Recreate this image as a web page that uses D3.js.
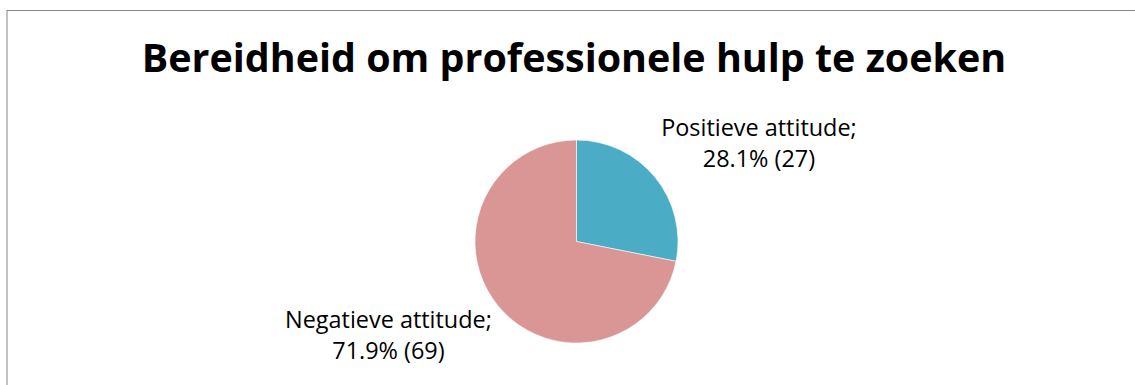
<!DOCTYPE html>
<html>
<head>
<meta charset="utf-8">
<script src="https://cdn.jsdelivr.net/npm/d3@7"></script>
<style>
  html, body { margin: 0; padding: 0; background: #fff; }
  svg { display: block; }
</style>
</head>
<body>
<svg id="chart" width="1135" height="385"></svg>
<script>
// Data
const title = "Bereidheid om professionele hulp te zoeken";
const categories = ["Positieve attitude", "Negatieve attitude"];
const counts = [27, 69];
const colors = ["#4BACC6", "#D99694"];

// Layout
const W = 1135, H = 385;
const frame = { x: 7, y: 10.5, w: 1134, h: 400 };
const titleBaseline = 71.7;
const titleWidth = 865;
const cx = 576.5, cy = 241.5, radius = 101.5;
const labelFontFamily = "'Open Sans', 'Noto Sans', sans-serif";
const labelLineHeight = 31;
const labelGap = 8;

const svg = d3.select("#chart");
svg.append("rect").attr("width", W).attr("height", H).attr("fill", "#fff");

// Chart frame
svg.append("rect")
  .attr("x", frame.x).attr("y", frame.y)
  .attr("width", frame.w).attr("height", frame.h)
  .attr("fill", "none")
  .attr("stroke", "#868686")
  .attr("stroke-width", 1);

// Title, sized to its line width
const titleText = svg.append("text")
  .attr("x", frame.x + frame.w / 2)
  .attr("y", titleBaseline)
  .attr("text-anchor", "middle")
  .attr("font-family", "'Open Sans', 'Noto Sans', sans-serif")
  .attr("font-weight", 700)
  .attr("font-size", 36)
  .attr("fill", "#000")
  .text(title);
const tw = titleText.node().getComputedTextLength();
titleText.attr("font-size", 36 * titleWidth / tw);

// Pie
const total = d3.sum(counts);
const data = categories.map((c, i) => ({ name: c, value: counts[i], color: colors[i] }));
const pie = d3.pie().value(d => d.value).sort(null);
const arcs = pie(data);
const arc = d3.arc().innerRadius(0).outerRadius(radius);

const g = svg.append("g").attr("transform", `translate(${cx},${cy})`);
g.selectAll("path")
  .data(arcs)
  .join("path")
  .attr("d", arc)
  .attr("fill", d => d.data.color)
  .attr("stroke", "#fff")
  .attr("stroke-width", 0.6);

// Data labels: "name; pct% (n)" placed outside the slice edge at mid-angle
const fmtPct = d3.format(".1f");
// size label font so "Negatieve attitude;" spans ~207px
const probe = svg.append("text")
  .attr("font-family", labelFontFamily).attr("font-size", 24)
  .text(categories[1] + ";");
const labelFontSize = 24 * 207 / probe.node().getComputedTextLength();
probe.remove();

arcs.forEach(a => {
  const lines = [a.data.name + ";", fmtPct(a.data.value / total * 100) + "% (" + a.data.value + ")"];
  const mid = (a.startAngle + a.endAngle) / 2;
  const dx = Math.sin(mid), dy = -Math.cos(mid);
  const ax = cx + dx * (radius + labelGap);
  const ay = cy + dy * (radius + labelGap);

  const t = svg.append("text")
    .attr("font-family", labelFontFamily)
    .attr("font-size", labelFontSize)
    .attr("fill", "#000")
    .attr("text-anchor", "middle");
  t.selectAll("tspan")
    .data(lines)
    .join("tspan")
    .attr("x", 0)
    .attr("y", (d, i) => i * labelLineHeight)
    .text(d => d);

  const widths = [];
  t.selectAll("tspan").each(function () { widths.push(this.getComputedTextLength()); });
  const bw = d3.max(widths);
  const capTop = -0.72 * labelFontSize;
  const bottom = (lines.length - 1) * labelLineHeight + 0.22 * labelFontSize;
  const bh = bottom - capTop;

  const left = dx >= 0 ? ax : ax - bw;
  const top = dy < 0 ? ay - bh : ay;
  t.attr("transform", `translate(${left + bw / 2},${top - capTop})`);
});
</script>
</body>
</html>
